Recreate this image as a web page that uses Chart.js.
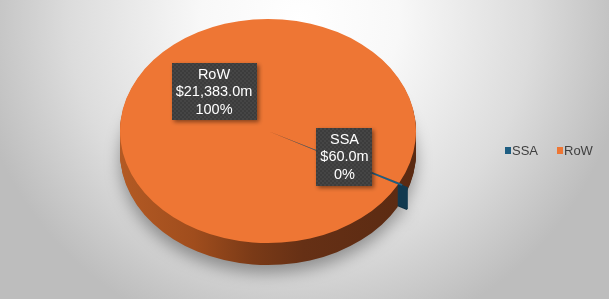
<!DOCTYPE html>
<html><head><meta charset="utf-8">
<script src="https://cdn.jsdelivr.net/npm/chart.js@4.4.0/dist/chart.umd.min.js"></script>
<style>html,body{margin:0;padding:0;overflow:hidden;background:#d8d8d8}canvas{display:block}</style>
</head><body>
<canvas id="c" width="609" height="299"></canvas>
<script>
// ---- data ----
const categories = ['SSA', 'RoW'];
const valuesM = [60.0, 21383.0];

// ---- style / geometry constants ----
const TILT = 0.757, DEPTH = 22, CY = 131;
const TOP_COLORS = ['#1F5E82', '#EE7634'];
const FONT = '"Liberation Sans", Arial, sans-serif';

function tilt(ctx, el) { ctx.translate(0, CY); ctx.scale(1, TILT); ctx.translate(0, -el.y); }

function fmtVal(v) { return '$' + v.toLocaleString('en-US', {minimumFractionDigits: 1, maximumFractionDigits: 1}) + 'm'; }

let patternCache = null;
function boxPattern(ctx) {
  if (patternCache) return patternCache;
  const pc = document.createElement('canvas'); pc.width = 4; pc.height = 4;
  const p = pc.getContext('2d');
  p.fillStyle = '#3c3c3c'; p.fillRect(0, 0, 4, 4);
  p.fillStyle = '#454545'; p.fillRect(0, 0, 2, 2); p.fillRect(2, 2, 2, 2);
  patternCache = ctx.createPattern(pc, 'repeat');
  return patternCache;
}

const pie3d = {
  id: 'pie3d',
  beforeDraw(chart) {
    const ctx = chart.ctx, W = chart.width, H = chart.height;
    ctx.save();
    const g = ctx.createRadialGradient(300, 20, 0, 300, 20, 330);
    g.addColorStop(0, '#ffffff');
    g.addColorStop(0.3, '#f8f8f8');
    g.addColorStop(0.7, '#dcdcdc');
    g.addColorStop(1, '#bdbdbd');
    ctx.fillStyle = g; ctx.fillRect(0, 0, W, H);
    ctx.restore();
  },
  beforeDatasetsDraw(chart) {
    const ctx = chart.ctx, meta = chart.getDatasetMeta(0);
    for (let k = DEPTH; k >= 0; k--) {
      meta.data.forEach((el, i) => {
        const p = el.getProps(['x', 'y', 'startAngle', 'endAngle', 'outerRadius', 'circumference']);
        const off = (k === 0) ? 0 : (el.options.offset || 0);
        if (k === 0 && i !== 0) return;
        const mid = (p.startAngle + p.endAngle) / 2;
        const fix = 1 - Math.sin(Math.min(Math.PI, p.circumference || 0));
        const ox = p.x + Math.cos(mid) * off / 4, oy = p.y + Math.sin(mid) * off / 4;
        const r = p.outerRadius + off * fix;
        ctx.save();
        ctx.translate(0, k);
        tilt(ctx, el);
        ctx.beginPath();
        ctx.moveTo(ox, oy);
        ctx.arc(ox, oy, r, p.startAngle, p.endAngle);
        ctx.closePath();
        if (k === 0) {
          ctx.fillStyle = el.options.backgroundColor;
        } else if (i === 1) {
          const g = ctx.createLinearGradient(p.x - r, 0, p.x + r, 0);
          g.addColorStop(0, '#b35a24');
          g.addColorStop(0.25, '#a04d1d');
          g.addColorStop(0.45, '#7a3a17');
          g.addColorStop(0.62, '#663015');
          g.addColorStop(1, '#5a2a12');
          ctx.fillStyle = g;
        } else {
          ctx.fillStyle = '#123a50';
        }
        if (k === DEPTH) {
          ctx.shadowColor = 'rgba(0,0,0,0.35)';
          ctx.shadowBlur = 16;
          ctx.shadowOffsetY = 8;
        }
        ctx.fill();
        ctx.restore();
      });
    }
  },
  beforeDatasetDraw(chart) {
    const ctx = chart.ctx, el = chart.getDatasetMeta(0).data[0];
    ctx.save();
    tilt(ctx, el);
  },
  afterDatasetDraw(chart) { chart.ctx.restore(); },
  afterDatasetsDraw(chart) {
    const ctx = chart.ctx, meta = chart.getDatasetMeta(0);
    const data = chart.data.datasets[0].data;
    const total = data.reduce((a, b) => a + b, 0);
    const labelBoxes = [[76.5, 25.5, 58], [-54, -39.5, 57]];
    meta.data.forEach((el, i) => {
      const cx = el.x + labelBoxes[i][0], cy = CY + labelBoxes[i][1];
      const lines = [chart.data.labels[i], fmtVal(data[i]), Math.round(data[i] / total * 100) + '%'];
      ctx.save();
      ctx.font = '14.5px ' + FONT;
      const w = Math.max(...lines.map(t => ctx.measureText(t).width)) + 8;
      const lh = 17.5, h = labelBoxes[i][2];
      ctx.shadowColor = 'rgba(0,0,0,0.45)'; ctx.shadowBlur = 4; ctx.shadowOffsetX = 2; ctx.shadowOffsetY = 2;
      ctx.fillStyle = boxPattern(ctx);
      ctx.fillRect(Math.round(cx - w / 2), Math.round(cy - h / 2), Math.round(w), Math.round(h));
      ctx.shadowColor = 'transparent';
      ctx.fillStyle = '#ffffff'; ctx.textAlign = 'center'; ctx.textBaseline = 'middle';
      lines.forEach((t, j) => ctx.fillText(t, cx, cy + (j - 1) * lh + 0.5));
      ctx.restore();
    });
  },
  afterDraw(chart) {
    const ctx = chart.ctx;
    const xs = [[505, 512], [557, 564]];
    ctx.save();
    ctx.font = '13px ' + FONT; ctx.textBaseline = 'middle'; ctx.textAlign = 'left';
    chart.data.labels.forEach((lab, i) => {
      ctx.fillStyle = chart.data.datasets[0].backgroundColor[i];
      ctx.fillRect(xs[i][0], 147, 6, 7);
      ctx.fillStyle = '#404040';
      ctx.fillText(lab, xs[i][1], 151);
    });
    ctx.restore();
  }
};

new Chart(document.getElementById('c'), {
  type: 'pie',
  data: {
    labels: categories,
    datasets: [{
      data: valuesM,
      backgroundColor: TOP_COLORS,
      borderWidth: 0,
      offset: [8, 0],
      clip: false
    }]
  },
  options: {
    responsive: false,
    devicePixelRatio: 1,
    animation: false,
    rotation: 117.5,
    radius: 148,
    layout: { padding: { left: 120, right: 193, top: 2, bottom: 3 } },
    plugins: { legend: { display: false }, tooltip: { enabled: false } }
  },
  plugins: [pie3d]
});
</script>
</body></html>
